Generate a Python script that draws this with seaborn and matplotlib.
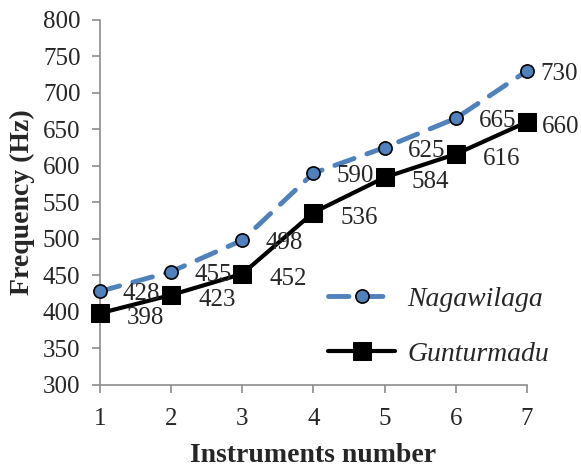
import matplotlib
matplotlib.use("Agg")
import matplotlib.pyplot as plt
import seaborn as sns
import pandas as pd

instruments = [1, 2, 3, 4, 5, 6, 7]
nagawilaga = [428, 455, 498, 590, 625, 665, 730]
guntumadu = [398, 423, 452, 536, 584, 616, 660]
y_ticks = [300, 350, 400, 450, 500, 550, 600, 650, 700, 750, 800]

sns.set_style("ticks")
plt.rcParams['font.family'] = ['Liberation Serif', 'DejaVu Serif']

fig = plt.figure(figsize=(5.81, 4.71), dpi=100)
ax = fig.add_axes([0.172, 0.183, 0.735, 0.775])

df_n = pd.DataFrame({'x': instruments, 'y': nagawilaga})
df_g = pd.DataFrame({'x': instruments, 'y': guntumadu})

sns.lineplot(data=df_n, x='x', y='y', ax=ax, color='#4F81BD', linewidth=3.5,
             marker='o', markersize=9.5, markerfacecolor='#4F81BD',
             markeredgecolor='black', markeredgewidth=1.2,
             label='Nagawilaga', clip_on=False, zorder=3)
ax.lines[-1].set_dashes([4.2, 2.8])
ax.lines[-1].set_dash_capstyle('round')
sns.lineplot(data=df_g, x='x', y='y', ax=ax, color='black', linewidth=3,
             marker='s', markersize=13, markerfacecolor='black',
             markeredgecolor='black', label='Gunturmadu', clip_on=False, zorder=4)

# data labels right of the points (last one pulled in, like Excel)
for i, (x, v) in enumerate(zip(instruments, nagawilaga)):
    dx = 13 if i == len(instruments) - 1 else 23
    ax.annotate(str(v), (x, v), xytext=(dx, -9), textcoords='offset pixels',
                ha='left', va='baseline', fontsize=18, annotation_clip=False, zorder=5)
for i, (x, v) in enumerate(zip(instruments, guntumadu)):
    dx = 15 if i == len(instruments) - 1 else 27
    ax.annotate(str(v), (x, v), xytext=(dx, -11), textcoords='offset pixels',
                ha='left', va='baseline', fontsize=18, annotation_clip=False, zorder=5)

ax.set_xlim(1, 7)
ax.set_ylim(300, 800)
ax.set_xticks(instruments)
ax.set_yticks(y_ticks)
ax.tick_params(labelsize=18, length=6, width=1.2, color='#8c8c8c', direction='out')
ax.tick_params(axis='y', pad=8)
ax.tick_params(axis='x', pad=11)
for s in ['top', 'right']:
    ax.spines[s].set_visible(False)
for s in ['left', 'bottom']:
    ax.spines[s].set_color('#8c8c8c')
    ax.spines[s].set_linewidth(1.2)

ax.set_xlabel('Instruments number', fontsize=20, fontweight='bold', labelpad=9)
ax.set_ylabel('Frequency (Hz)', fontsize=20, fontweight='bold', labelpad=6)

leg = ax.legend(loc='lower left', bbox_to_anchor=(0.535, 0.05), frameon=False,
                prop={'style': 'italic', 'size': 20}, labelspacing=1.05,
                handlelength=2.4, handletextpad=0.45, borderpad=0, borderaxespad=0)

fig.savefig('out.png', dpi=100)
